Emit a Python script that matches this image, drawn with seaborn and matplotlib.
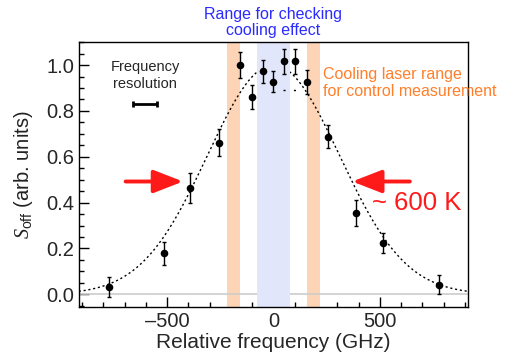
import matplotlib
matplotlib.use('Agg')
import matplotlib.pyplot as plt
from matplotlib.ticker import MultipleLocator
import numpy as np
import pandas as pd
import seaborn as sns

# measured points
freq = [-775, -515, -390, -258, -157, -102, -50, 0, 50, 102, 157, 258, 387, 517, 777]
signal = [0.031, 0.179, 0.463, 0.662, 1.001, 0.859, 0.972, 0.928, 1.016, 1.016,
          0.926, 0.688, 0.356, 0.223, 0.041]
signal_err = [0.044, 0.050, 0.065, 0.058, 0.057, 0.052, 0.051, 0.044, 0.054, 0.054,
              0.052, 0.051, 0.057, 0.045, 0.041]

# gaussian fit parameters
fit_amp = 1.0
fit_center = 0.0
fit_sigma = 310.0

# shaded ranges (GHz)
blue_range = (-78, 79)
orange_ranges = [(-218, -158), (159, 219)]
dip_level = 0.89
dip_range = (45, 105)

# frequency resolution bar
res_center = -603
res_halfwidth = 55

sns.set_style('ticks')
plt.rcParams['font.family'] = ['Liberation Sans', 'DejaVu Sans']
plt.rcParams['mathtext.fontset'] = 'custom'
plt.rcParams['mathtext.it'] = 'Liberation Serif:italic'
plt.rcParams['mathtext.rm'] = 'Liberation Sans'

df = pd.DataFrame({'freq': freq, 'signal': signal, 'err': signal_err})
xs = np.linspace(-915, 915, 600)
fit = pd.DataFrame({'freq': xs,
                    'signal': fit_amp * np.exp(-(xs - fit_center) ** 2 / (2 * fit_sigma ** 2))})

fig, ax = plt.subplots(figsize=(5.05, 3.57), dpi=100)
fig.subplots_adjust(left=0.156, right=0.927, top=0.882, bottom=0.141)

for lo, hi in orange_ranges:
    ax.axvspan(lo, hi, color='#fdd5b6', lw=0, zorder=1)
ax.axhline(0, color='#cccccc', lw=1.2, zorder=1.5)

sns.lineplot(data=fit, x='freq', y='signal', ax=ax, color='black', lw=1.0,
             linestyle=(0, (1.5, 2.0)), zorder=2)
ax.axvspan(*blue_range, color='#e1e6fb', lw=0, zorder=2.5)
ax.plot(dip_range, [dip_level, dip_level], color='black', lw=1.0,
        linestyle=(0, (1.5, 6)), zorder=2.6)

ax.errorbar(df['freq'], df['signal'], yerr=df['err'], fmt='none', ecolor='black',
            elinewidth=1.0, capsize=1.5, capthick=1.0, zorder=3)
sns.scatterplot(data=df, x='freq', y='signal', ax=ax, color='black', s=30,
                edgecolor='black', linewidth=0, zorder=4)

# frequency resolution
ax.errorbar([res_center], [0.83], xerr=[res_halfwidth], fmt='none', ecolor='black',
            elinewidth=2.0, capsize=2.5, capthick=2.0)
ax.text(res_center, 0.953, 'Frequency\nresolution', ha='center', va='center',
        fontsize=10.5, linespacing=1.3)

# arrows
arrow_kw = dict(arrowstyle='-|>,head_length=1.8,head_width=0.7', color='#ff1a1a',
                lw=2.8, mutation_scale=10, shrinkA=0, shrinkB=0)
ax.annotate('', xy=(-425, 0.492), xytext=(-695, 0.492), arrowprops=arrow_kw)
ax.annotate('', xy=(370, 0.492), xytext=(641, 0.492), arrowprops=arrow_kw)
ax.text(463, 0.397, '~ 600 K', color='#ff1a1a', fontsize=18.5, ha='left', va='center')

ax.text(0, 1.117, 'Range for checking\ncooling effect', color='#2b2bff', fontsize=11.5,
        ha='center', va='bottom', linespacing=1.1, clip_on=False)
ax.text(235, 0.923, 'Cooling laser range\nfor control measurement', color='#ff7f2a',
        fontsize=11.5, ha='left', va='center', linespacing=1.2, clip_on=False)

ax.set_xlim(-915, 915)
ax.set_ylim(-0.054, 1.10)
ax.xaxis.set_major_locator(MultipleLocator(500))
ax.xaxis.set_minor_locator(MultipleLocator(100))
ax.yaxis.set_major_locator(MultipleLocator(0.2))
ax.yaxis.set_minor_locator(MultipleLocator(0.05))
ax.yaxis.set_major_formatter(matplotlib.ticker.FormatStrFormatter('%.1f'))
ax.xaxis.set_major_formatter(matplotlib.ticker.FuncFormatter(
    lambda v, p: ('\u2013%d' % -v) if v < 0 else '%d' % v))
ax.tick_params(which='both', direction='in', top=False, right=False, labelsize=14.5,
               width=1.0, color='black')
ax.tick_params(which='major', length=7)
ax.tick_params(which='minor', length=3.5)
for s in ax.spines.values():
    s.set_linewidth(1.0)
    s.set_color('black')

ax.set_xlabel('Relative frequency (GHz)', fontsize=15, labelpad=2)
ax.set_ylabel(r'$S_{\mathrm{off}}$ (arb. units)', fontsize=14.5, labelpad=8, color='#222222')

fig.savefig('out.png', dpi=100)
